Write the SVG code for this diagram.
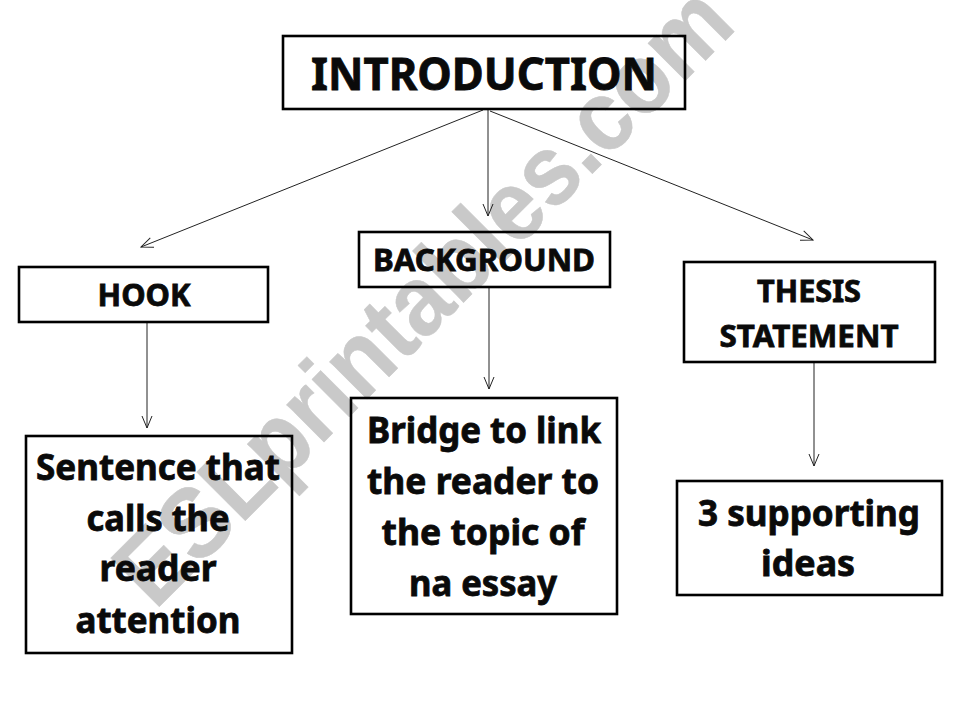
<svg xmlns="http://www.w3.org/2000/svg" width="960" height="720" viewBox="0 0 960 720">
<defs>
<marker id="open" viewBox="0 0 14 12" markerWidth="14" markerHeight="12" refX="13" refY="6" orient="auto" markerUnits="userSpaceOnUse"><path d="M1 1 L13 6 L1 11" fill="none" stroke="#222" stroke-width="1"/></marker>
</defs>
<style>
text{font-family:"Noto Sans","Open Sans","Liberation Sans",sans-serif;font-weight:700;fill:#0a0a0a;text-anchor:middle;stroke:#0a0a0a;stroke-width:.8}
.box{fill:none;stroke:#000;stroke-width:2.6}
.wm{font-family:"Liberation Sans",sans-serif;font-weight:700;fill:#c9c9c9;stroke:#c9c9c9;stroke-width:.5;stroke-linejoin:round;text-anchor:start;font-size:100px}
.c{fill:none;stroke:#222;stroke-width:1;marker-end:url(#open)}
.t1{font-size:45px}.t2{font-size:31px}.t3{font-size:36px}
</style>
<rect width="960" height="720" fill="#fff"/>
<text class="wm" transform="translate(155 611) rotate(-45)" textLength="825" lengthAdjust="spacingAndGlyphs">ESLprintables.com</text>
<g id="connectors">
<line class="c" x1="483" y1="110" x2="141" y2="247"/>
<line class="c" x1="488" y1="110" x2="488" y2="216"/>
<line class="c" x1="490" y1="111" x2="813" y2="240"/>
<line class="c" x1="147" y1="323" x2="147" y2="428"/>
<line class="c" x1="489" y1="287" x2="489" y2="389"/>
<line class="c" x1="814" y1="362" x2="814" y2="466"/>
</g>
<g id="introduction"><rect class="box" x="283" y="36" width="402" height="73"/><text class="t1" x="484" y="90" textLength="346" lengthAdjust="spacingAndGlyphs">INTRODUCTION</text></g>
<g id="hook"><rect class="box" x="19" y="267" width="249" height="55"/><text class="t2" x="144" y="306" textLength="93" lengthAdjust="spacingAndGlyphs">HOOK</text></g>
<g id="background"><rect class="box" x="359" y="232" width="251" height="55"/><text class="t2" x="484" y="271" textLength="222" lengthAdjust="spacingAndGlyphs">BACKGROUND</text></g>
<g id="thesis"><rect class="box" x="684" y="262" width="251" height="100"/><text class="t2" x="809" y="302" textLength="104" lengthAdjust="spacingAndGlyphs">THESIS</text><text class="t2" x="809" y="347" textLength="179" lengthAdjust="spacingAndGlyphs">STATEMENT</text></g>
<g id="sentence"><rect class="box" x="26" y="436" width="266" height="217"/>
<text class="t3" x="158" y="480" textLength="244" lengthAdjust="spacingAndGlyphs">Sentence that</text>
<text class="t3" x="158" y="531" textLength="143" lengthAdjust="spacingAndGlyphs">calls the</text>
<text class="t3" x="158" y="581" textLength="117" lengthAdjust="spacingAndGlyphs">reader</text>
<text class="t3" x="158" y="633" textLength="165" lengthAdjust="spacingAndGlyphs">attention</text></g>
<g id="bridge"><rect class="box" x="351" y="398" width="266" height="216"/>
<text class="t3" x="484" y="443" textLength="234" lengthAdjust="spacingAndGlyphs">Bridge to link</text>
<text class="t3" x="483" y="494" textLength="232" lengthAdjust="spacingAndGlyphs">the reader to</text>
<text class="t3" x="483" y="545" textLength="203" lengthAdjust="spacingAndGlyphs">the topic of</text>
<text class="t3" x="483" y="596" textLength="148" lengthAdjust="spacingAndGlyphs">na essay</text></g>
<g id="ideas"><rect class="box" x="677" y="481" width="265" height="114"/>
<text class="t3" x="809" y="526" textLength="222" lengthAdjust="spacingAndGlyphs">3 supporting</text>
<text class="t3" x="808" y="576" textLength="94" lengthAdjust="spacingAndGlyphs">ideas</text></g>
</svg>
